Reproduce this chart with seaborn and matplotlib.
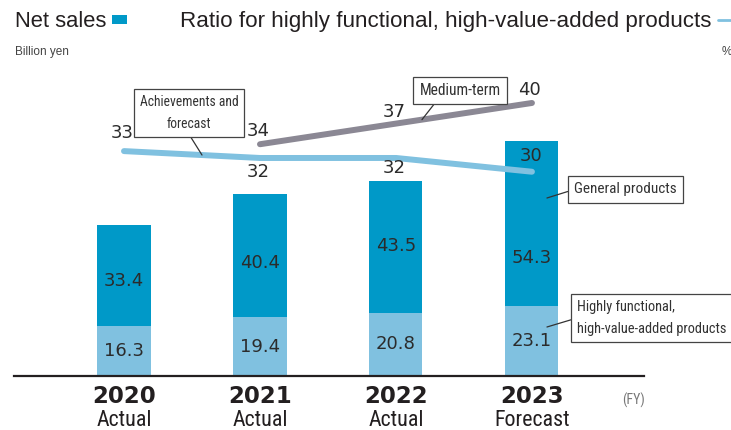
import numpy as np
import pandas as pd
import matplotlib
matplotlib.use("Agg")
import matplotlib.pyplot as plt
import seaborn as sns
from matplotlib import font_manager
from matplotlib.patches import Rectangle
from matplotlib.lines import Line2D

# ---- data -------------------------------------------------------------
years = ["2020", "2021", "2022", "2023"]
periods = ["Actual", "Actual", "Actual", "Forecast"]
high_value_sales = [16.3, 19.4, 20.8, 23.1]      # billion yen
general_sales = [33.4, 40.4, 43.5, 54.3]         # billion yen
ratio_actual = [33, 32, 32, 30]                  # %
target_years = ["2021", "2022", "2023"]
ratio_target = [34, 37, 40]                      # %

# ---- styling ----------------------------------------------------------
DARK_BLUE = "#0099c8"
LIGHT_BLUE = "#80c1e0"
GRAY_LINE = "#8b8894"
INK = "#231f20"
REGULAR = ["Liberation Sans", "DejaVu Sans"]

# condensed face for captions if one is installed, else a regular face
# at a reduced size so the widths stay comparable
installed = {f.name for f in font_manager.fontManager.ttflist}
NARROW, NSCALE = REGULAR, 0.82
for cand in ["Liberation Sans Narrow", "Roboto Condensed",
             "Open Sans Condensed", "DejaVu Sans Condensed"]:
    if cand in installed:
        NARROW, NSCALE = [cand, "DejaVu Sans"], 1.0
        break


def nsize(pt):
    return pt * NSCALE


sns.set_theme(style="white")
plt.rcParams["font.family"] = ["DejaVu Sans"]

df = pd.DataFrame({
    "year": years,
    "high": high_value_sales,
    "general": general_sales,
})
df["total"] = df["high"] + df["general"]
pos = np.arange(len(years))

W, H = 731, 430
fig = plt.figure(figsize=(W / 100, H / 100), dpi=100)
ax = fig.add_axes([14 / W, 54 / H, 630 / W, 316 / H])

# stacked bars: full height in dark blue, lower segment in light blue
sns.barplot(data=df, x="year", y="total", color=DARK_BLUE, width=0.39,
            saturation=1, linewidth=0, ax=ax)
sns.barplot(data=df, x="year", y="high", color=LIGHT_BLUE, width=0.39,
            saturation=1, linewidth=0, ax=ax)

ax.set_ylim(0, 316 / 3.04)
ax.set_xlabel("")
ax.set_ylabel("")
ax.set_yticks([])
ax.set_xticks(pos)
ax.set_xticklabels([])
ax.tick_params(axis="x", length=0)
for s in ["top", "left", "right"]:
    ax.spines[s].set_visible(False)
ax.spines["bottom"].set_color(INK)
ax.spines["bottom"].set_linewidth(1.6)

# segment value labels
dark_nudge = [-4, -5, 0.7, -25]  # points
for i, row in df.iterrows():
    ax.annotate(f"{row['high']:.1f}", (i, row["high"] / 2), ha="center",
                va="center", fontsize=13, color="#2b2b2b")
    ax.annotate(f"{row['general']:.1f}",
                (i, row["high"] + row["general"] / 2),
                xytext=(0, dark_nudge[i]), textcoords="offset points",
                ha="center", va="center", fontsize=13, color="#2b2b2b")

# ratio lines on a secondary scale
ax2 = ax.twinx()
ax2.set_ylim(0.29, 46.25)
target_pos = np.array([years.index(y) for y in target_years])
sns.lineplot(x=pos, y=ratio_actual, ax=ax2, color=LIGHT_BLUE, lw=4.3,
             solid_capstyle="round", sort=False)
sns.lineplot(x=target_pos, y=ratio_target, ax=ax2, color=GRAY_LINE, lw=4.3,
             solid_capstyle="round", sort=False)
ax2.set_yticks([])
ax2.set_ylabel("")
for s in ax2.spines.values():
    s.set_visible(False)
ax.set_xlim(-0.809, 3.824)

actual_offsets = [13, -10, -7.5, 11.5]
for x, v, dy in zip(pos, ratio_actual, actual_offsets):
    ax2.annotate(f"{v}", (x, v), xytext=(-1, dy), textcoords="offset points",
                 ha="center", va="center", fontsize=13, color="#2b2b2b")
target_offsets = [9.4, 8, 9.4]
for x, v, dy in zip(target_pos, ratio_target, target_offsets):
    ax2.annotate(f"{v}", (x, v), xytext=(-1.5, dy), textcoords="offset points",
                 ha="center", va="center", fontsize=13, color="#2b2b2b")

# category labels under the axis
xt = ax.get_xaxis_transform()
for x, y, p in zip(pos, years, periods):
    ax.text(x, -0.087, y, transform=xt, ha="center", va="baseline",
            fontsize=16.5, fontweight="bold", color=INK)
    ax.text(x, -0.157, p, transform=xt, ha="center", va="baseline",
            fontsize=nsize(15.8), family=NARROW, color=INK)
fig.text(622 / W, (H - 405) / H, "(FY)", ha="left", va="baseline",
         fontsize=nsize(10), family=NARROW, color="#777777")

# callout boxes
box = dict(boxstyle="square,pad=0.4", fc="white", ec="#444444", lw=0.9)
arrow = dict(arrowstyle="-", color="#333333", lw=0.9, shrinkA=0, shrinkB=0)

x_ach = (202 - 124) / 136
ax2.annotate("Achievements and\nforecast",
             (x_ach, np.interp(x_ach, pos, ratio_actual)),
             xytext=(189, H - 113), textcoords="figure pixels",
             ha="center", va="center", fontsize=nsize(9.8), family=NARROW,
             color="#333333", linespacing=1.75, bbox=box,
             arrowprops=dict(arrow, relpos=(0.48, 0)))

x_mid = (422 - 124) / 136
ax2.annotate("Medium-term",
             (x_mid, np.interp(x_mid, target_pos, ratio_target)),
             xytext=(460, H - 90.5), textcoords="figure pixels",
             ha="center", va="center", fontsize=nsize(11.2), family=NARROW,
             color="#333333", bbox=box,
             arrowprops=dict(arrow, relpos=(0.24, 0)))

x_in = (547 - 124) / 136
ax.annotate("General products", (x_in, (376 - 198) / 3.04),
            xytext=(625.5, H - 189.5), textcoords="figure pixels",
            ha="center", va="center", fontsize=nsize(11), family=NARROW,
            color="#333333", bbox=box,
            arrowprops=dict(arrow, relpos=(0, 0.5)))

ax.annotate("Highly functional,\nhigh-value-added products",
            (x_in, (376 - 327) / 3.04),
            xytext=(577, H - 318), textcoords="figure pixels",
            ha="left", va="center", fontsize=nsize(10.4), family=NARROW,
            color="#333333", linespacing=1.8, bbox=box,
            arrowprops=dict(arrow, relpos=(0, 0.5)))

# header and legend keys
fig.text(15 / W, (H - 27) / H, "Net sales", ha="left", va="baseline",
         fontsize=15.8, family=REGULAR, color=INK)
fig.patches.append(Rectangle((112 / W, (H - 24) / H), 15 / W, 9 / H,
                             transform=fig.transFigure, fc=DARK_BLUE,
                             ec="none"))
fig.text(180 / W, (H - 27) / H,
         "Ratio for highly functional, high-value-added products",
         ha="left", va="baseline", fontsize=16.1, family=REGULAR, color=INK)
fig.lines.append(Line2D([718 / W, 1.0], [(H - 20) / H, (H - 20) / H],
                        transform=fig.transFigure, color=LIGHT_BLUE, lw=2))
fig.text(15 / W, (H - 55) / H, "Billion yen", ha="left", va="baseline",
         fontsize=8.5, family=REGULAR, color="#444444")
fig.text(722 / W, (H - 55) / H, "%", ha="left", va="baseline",
         fontsize=8.5, family=REGULAR, color="#444444")

fig.savefig("out.png", dpi=100)
